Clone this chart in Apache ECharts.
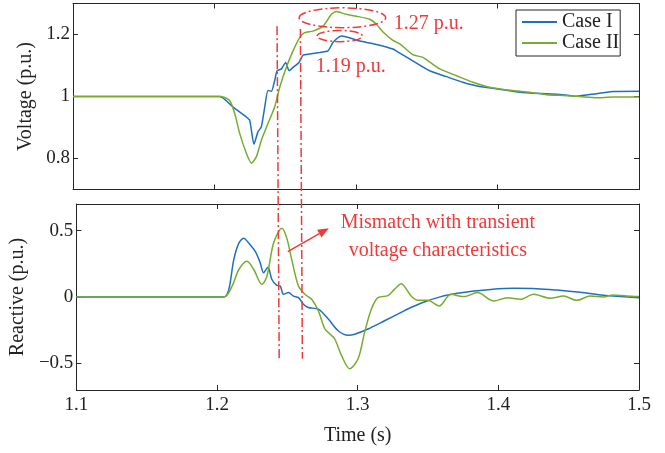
<!DOCTYPE html>
<html>
<head>
<meta charset="utf-8">
<script src="https://cdn.jsdelivr.net/npm/echarts@6/dist/echarts.min.js"></script>
<style>
  html, body { margin: 0; padding: 0; background: #fff; }
  #main { width: 665px; height: 453px; }
</style>
</head>
<body>
<div id="main"></div>
<script>
var FONT = '"Liberation Serif", "Times New Roman", serif';
var RED = '#ef3a3a';

// tick labels
var timeTicks = [1.1, 1.2, 1.3, 1.4, 1.5];
var voltTicks = [0.8, 1, 1.2];
var reactTicks = [-0.5, 0, 0.5];

// [time (s), value (p.u.)]
var voltCaseI = [[1.10,1.0],[1.2037,1.0],[1.2131,0.966],[1.2225,0.934],[1.2249,0.923],[1.2279,0.846],[1.2307,0.886],[1.2331,0.902],[1.2355,0.966],[1.2378,1.019],[1.2402,1.017],[1.2425,1.051],[1.2442,1.083],[1.2473,1.089],[1.2503,1.11],[1.2527,1.083],[1.2555,1.094],[1.2597,1.11],[1.2625,1.133],[1.2673,1.137],[1.2743,1.142],[1.2802,1.147],[1.2837,1.174],[1.2897,1.195],[1.3026,1.179],[1.3144,1.168],[1.3261,1.153],[1.3309,1.14],[1.3401,1.115],[1.3521,1.083],[1.3639,1.064],[1.3754,1.046],[1.3874,1.032],[1.3992,1.025],[1.4107,1.017],[1.4227,1.011],[1.4346,1.009],[1.4461,1.006],[1.4558,1.001],[1.4699,1.009],[1.4814,1.016],[1.50,1.017]];
var voltCaseII = [[1.10,1.0],[1.2049,1.0],[1.2107,0.987],[1.2143,0.945],[1.2178,0.881],[1.2225,0.817],[1.2261,0.785],[1.2296,0.806],[1.2331,0.859],[1.2378,0.913],[1.2425,0.966],[1.2461,1.03],[1.2508,1.094],[1.2555,1.147],[1.2602,1.19],[1.2637,1.206],[1.2696,1.211],[1.2767,1.227],[1.2826,1.265],[1.2861,1.274],[1.2932,1.265],[1.3003,1.259],[1.3097,1.249],[1.3144,1.233],[1.3191,1.208],[1.3261,1.181],[1.3309,1.17],[1.3401,1.135],[1.3473,1.126],[1.3592,1.089],[1.3710,1.067],[1.3827,1.046],[1.3945,1.03],[1.4107,1.019],[1.4227,1.014],[1.4346,1.006],[1.4463,1.003],[1.4581,1.0],[1.4699,0.996],[1.4814,0.998],[1.50,0.998]];
var reactCaseI = [[1.10,0],[1.2049,0],[1.2084,0.057],[1.2119,0.281],[1.2155,0.406],[1.2190,0.443],[1.2225,0.406],[1.2272,0.343],[1.2307,0.257],[1.2331,0.182],[1.2362,0.224],[1.2390,0.132],[1.2425,0.087],[1.2449,0.082],[1.2473,0.02],[1.2508,0.033],[1.2543,0.007],[1.2579,-0.005],[1.2614,-0.054],[1.2649,-0.079],[1.2720,-0.092],[1.2791,-0.166],[1.2861,-0.254],[1.2932,-0.288],[1.2979,-0.28],[1.3073,-0.241],[1.3191,-0.179],[1.3309,-0.116],[1.3356,-0.09],[1.3473,-0.038],[1.3592,0.003],[1.3710,0.028],[1.3827,0.045],[1.3945,0.057],[1.4110,0.065],[1.4275,0.063],[1.4416,0.052],[1.4581,0.035],[1.4746,0.013],[1.4816,0.007],[1.50,-0.005]];
var reactCaseII = [[1.10,0],[1.2049,0],[1.2107,0.082],[1.2155,0.207],[1.2213,0.269],[1.2261,0.207],[1.2319,0.095],[1.2355,0.157],[1.2402,0.406],[1.2461,0.518],[1.2496,0.443],[1.2531,0.281],[1.2579,0.082],[1.2625,0.02],[1.2673,-0.017],[1.2720,-0.104],[1.2767,-0.241],[1.2802,-0.278],[1.2837,-0.316],[1.2885,-0.44],[1.2943,-0.54],[1.3003,-0.465],[1.3049,-0.266],[1.3097,-0.092],[1.3144,-0.005],[1.3215,0.01],[1.3261,0.057],[1.3309,0.1],[1.3380,0.007],[1.3427,-0.025],[1.3497,-0.025],[1.3580,-0.067],[1.3662,0.02],[1.3756,0.003],[1.3851,0.033],[1.3968,-0.03],[1.4063,-0.005],[1.4157,-0.017],[1.4251,0.02],[1.4369,-0.01],[1.4463,0.007],[1.4558,-0.025],[1.4652,0.007],[1.4746,0],[1.4816,0.015],[1.4911,0.007],[1.50,0.003]];

var chart = echarts.init(document.getElementById('main'));

function fmt(v) {
    return String(Math.round(v * 10) / 10).replace('-', '\u2212');
}

function xAx(grid, pos, labels) {
    return {
        type: 'value', gridIndex: grid, position: pos, min: 1.1, max: 1.5,
        axisLine: { show: true, onZero: false, lineStyle: { color: '#262626', width: 1 } },
        axisTick: { show: true, inside: true, length: 5, customValues: timeTicks, lineStyle: { color: '#262626' } },
        axisLabel: { show: labels, customValues: timeTicks, margin: 6, formatter: fmt,
            fontFamily: FONT, fontSize: 19, color: '#222' },
        splitLine: { show: false }
    };
}

function yAx(grid, pos, min, max, ticks, labels, name) {
    return {
        type: 'value', gridIndex: grid, position: pos, min: min, max: max,
        name: name, nameLocation: 'middle', nameGap: 36,
        nameTextStyle: { fontFamily: FONT, fontSize: 20, color: '#222' },
        axisLine: { show: true, onZero: false, lineStyle: { color: '#262626', width: 1 } },
        axisTick: { show: true, inside: true, length: 5, customValues: ticks, lineStyle: { color: '#262626' } },
        axisLabel: { show: labels, customValues: ticks, margin: 3, formatter: fmt,
            fontFamily: FONT, fontSize: 19, color: '#222' },
        splitLine: { show: false }
    };
}

var bottomX = xAx(1, 'bottom', true);
bottomX.name = 'Time (s)';
bottomX.nameLocation = 'middle';
bottomX.nameGap = 36;
bottomX.nameTextStyle = { fontFamily: FONT, fontSize: 20, color: '#222' };

function line(name, x, y, data, color, smooth) {
    return {
        name: name, type: 'line', xAxisIndex: x, yAxisIndex: y, data: data,
        showSymbol: false, smooth: smooth, color: color,
        lineStyle: { width: 1.5, color: color }, animation: false
    };
}

var option = {
    backgroundColor: '#fff',
    animation: false,
    grid: [
        { left: 73, right: 26, top: 3.5, height: 186 },
        { left: 73, right: 26, top: 204, height: 186 }
    ],
    xAxis: [xAx(0, 'bottom', false), bottomX, xAx(0, 'top', false), xAx(1, 'top', false)],
    yAxis: [
        yAx(0, 'left', 0.7, 1.3, voltTicks, true, 'Voltage (p.u.)'),
        yAx(1, 'left', -0.7, 0.7, reactTicks, true, 'Reactive (p.u.)'),
        yAx(0, 'right', 0.7, 1.3, voltTicks, false, ''),
        yAx(1, 'right', -0.7, 0.7, reactTicks, false, '')
    ],
    legend: {
        orient: 'vertical', left: 516, top: 10, data: ['Case I', 'Case II'],
        icon: 'rect', itemWidth: 35, itemHeight: 2, itemGap: 1,
        padding: [2, 1, 3, 6], borderColor: '#262626', borderWidth: 1,
        backgroundColor: '#fff', selectedMode: false,
        textStyle: { fontFamily: FONT, fontSize: 20, color: '#222', lineHeight: 20 }
    },
    series: [
        line('Case I', 0, 0, voltCaseI, '#1f6fbf', 0.2),
        line('Case II', 0, 0, voltCaseII, '#77ac30', 0.2),
        line('Case I', 1, 1, reactCaseI, '#1f6fbf', 0.3),
        line('Case II', 1, 1, reactCaseII, '#77ac30', 0.3)
    ]
};
chart.setOption(option);

// annotations placed through the axes
function topPx(t, v) { return chart.convertToPixel({ xAxisIndex: 0, yAxisIndex: 0 }, [t, v]); }
function botPx(t, r) { return chart.convertToPixel({ xAxisIndex: 1, yAxisIndex: 1 }, [t, r]); }

var dashDot = [9, 3, 2, 3];
var g = [];
[[1.2442, 1.227], [1.2607, 1.218]].forEach(function (m) {
    var a = topPx(m[0], m[1]);
    var b = botPx(m[0], -0.465);
    g.push({ type: 'line', z: 10, shape: { x1: a[0], y1: a[1], x2: b[0], y2: b[1] },
        style: { stroke: RED, lineWidth: 1.5, lineDash: dashDot } });
});

function ellipse(t, v, dt, dv) {
    var c = topPx(t, v), e = topPx(t + dt, v + dv);
    g.push({ type: 'ellipse', z: 10,
        shape: { cx: c[0], cy: c[1], rx: e[0] - c[0], ry: c[1] - e[1] },
        style: { fill: null, stroke: RED, lineWidth: 1.5, lineDash: dashDot } });
}
ellipse(1.2904, 1.254, 0.0306, 0.032);
ellipse(1.2885, 1.195, 0.016, 0.018);

function label(p, text, align) {
    g.push({ type: 'text', z: 11,
        style: { text: text, x: p[0], y: p[1], fill: RED, align: align, verticalAlign: 'middle',
            font: '20px ' + FONT, lineHeight: 28 } });
}
label(topPx(1.3266, 1.2336), '1.27 p.u.', 'left');
label(topPx(1.2715, 1.096), '1.19 p.u.', 'left');
label(botPx(1.357, 0.453), 'Mismatch with transient\nvoltage characteristics', 'center');

// arrow
var s = botPx(1.2503, 0.341), e = botPx(1.2795, 0.518);
var ang = Math.atan2(e[1] - s[1], e[0] - s[0]);
var len = 11, hw = 4.5;
var bx = e[0] - len * Math.cos(ang), by = e[1] - len * Math.sin(ang);
g.push({ type: 'line', z: 10, shape: { x1: s[0], y1: s[1], x2: bx, y2: by },
    style: { stroke: RED, lineWidth: 1.5 } });
g.push({ type: 'polygon', z: 10,
    shape: { points: [e, [bx + hw * Math.sin(ang), by - hw * Math.cos(ang)], [bx - hw * Math.sin(ang), by + hw * Math.cos(ang)]] },
    style: { fill: RED } });

chart.setOption({ graphic: g });
</script>
</body>
</html>
